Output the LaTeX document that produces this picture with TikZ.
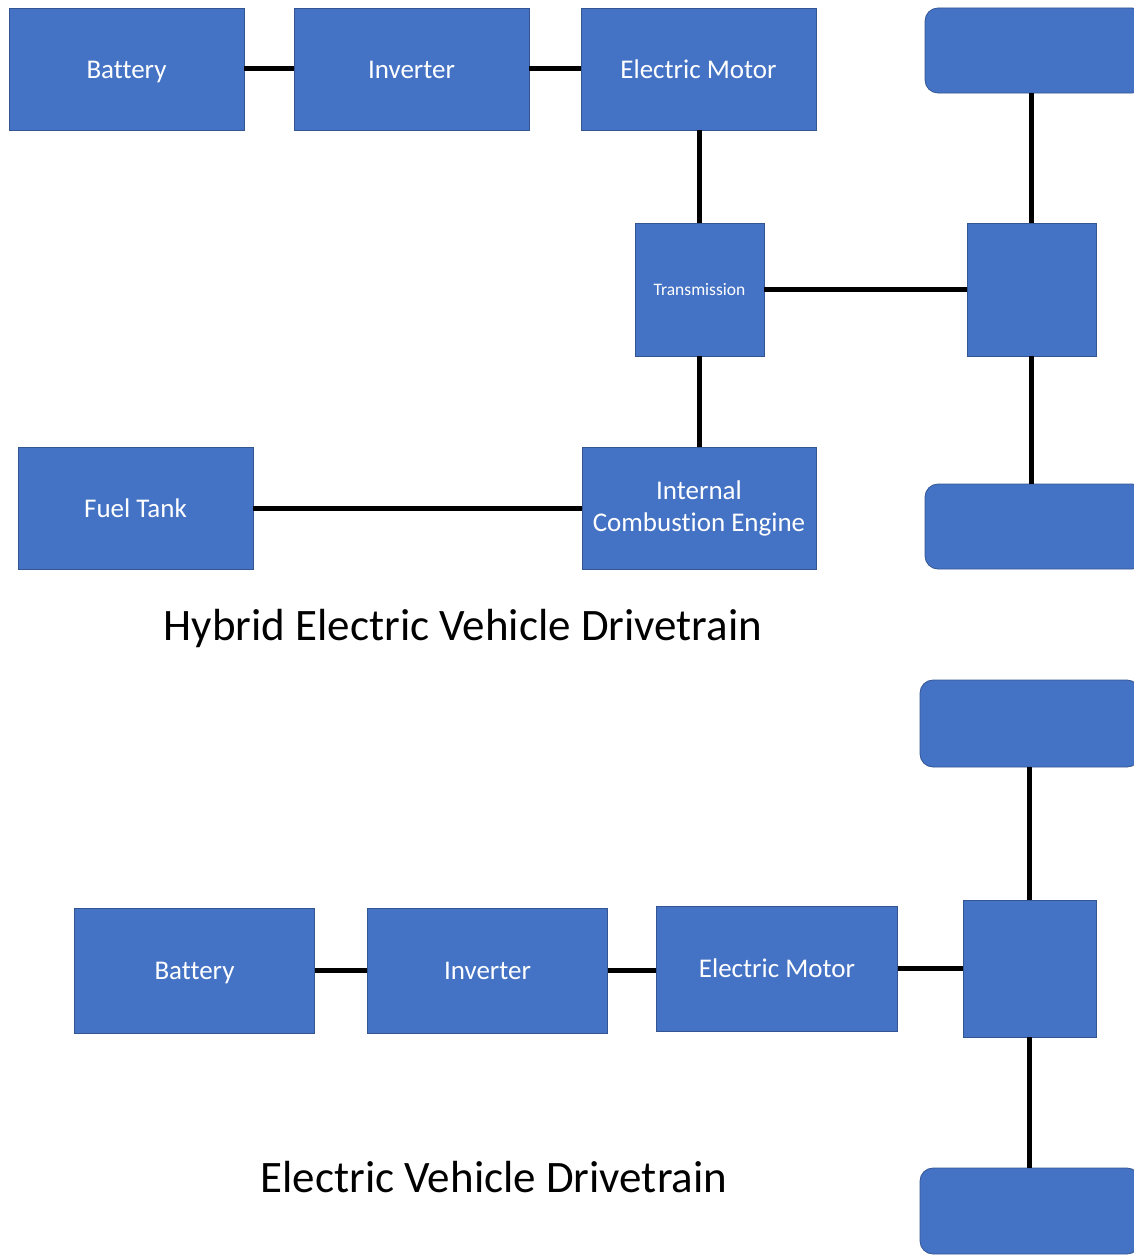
\documentclass[tikz,border=0pt]{standalone}
\usepackage{fontspec}
\setmainfont[Ligatures=NoCommon]{Carlito}
\begin{document}
\begin{tikzpicture}[x=1pt,y=-1pt,
  blk/.style={draw=bdr, line width=0.8pt, fill=boxblue, text=white, inner sep=0pt, font=\fontsize{27}{32}\selectfont},
  one/.style={text height=19pt, text depth=1pt},
  rblk/.style={blk, rounded corners=13pt},
  conn/.style={line width=5pt, black},
  ttl/.style={font=\fontsize{45}{54}\selectfont}]
\definecolor{boxblue}{HTML}{4472C4}
\colorlet{bdr}{boxblue!75!black}
\useasboundingbox (0,0) rectangle (1134,1255);
\clip (0,0) rectangle (1134,1255);
% ---------- Hybrid ----------
\node[blk, one, minimum width=235, minimum height=122] (hbat) at (126.5,69) {Battery};
\node[blk, one, minimum width=235, minimum height=122] (hinv) at (411.5,69) {Inverter};
\node[blk, one, minimum width=235, minimum height=122] (hmot) at (698.5,69) {Electric Motor};
\node[blk, text height=12pt, text depth=1pt, minimum width=129, minimum height=133, font=\fontsize{17.5}{21}\selectfont] (htr) at (699.5,289.5) {Transmission};
\node[blk, minimum width=129, minimum height=133] (hax) at (1031.5,289.5) {};
\node[rblk, minimum width=220, minimum height=85] (hwt) at (1035,50.5) {};
\node[rblk, minimum width=220, minimum height=85] (hwb) at (1035,526.5) {};
\node[blk, one, minimum width=235, minimum height=122] (hft) at (135.5,508) {Fuel Tank};
\node[blk, align=center, minimum width=234, minimum height=122] (hice) at (699,508) {Internal\\Combustion Engine};
\draw[conn] (hbat) -- (hinv);
\draw[conn] (hinv) -- (hmot);
\draw[conn] (hmot.south -| htr.north) -- (htr.north);
\draw[conn] (htr.south) -- (htr.south |- hice.north);
\draw[conn] (htr) -- (hax);
\draw[conn] (hax.north) -- (hax.north |- hwt.south);
\draw[conn] (hax.south) -- (hax.south |- hwb.north);
\draw[conn] (hft) -- (hice);
\node[ttl] (htitle) at (463,628) {Hybrid Electric Vehicle Drivetrain};
% ---------- Electric ----------
\node[rblk, minimum width=220, minimum height=87] (ewt) at (1030,723.5) {};
\node[blk, one, minimum width=240, minimum height=125] (ebat) at (194.5,970.5) {Battery};
\node[blk, one, minimum width=240, minimum height=125] (einv) at (487.5,970.5) {Inverter};
\node[blk, one, minimum width=241, minimum height=125] (emot) at (777,968.5) {Electric Motor};
\node[blk, minimum width=133, minimum height=137] (eax) at (1029.5,968.5) {};
\node[rblk, minimum width=220, minimum height=86] (ewb) at (1030,1211) {};
\draw[conn] (ebat) -- (einv);
\draw[conn] (einv.east) -- (einv.east -| emot.west);
\draw[conn] (emot) -- (eax);
\draw[conn] (eax.north) -- (eax.north |- ewt.south);
\draw[conn] (eax.south) -- (eax.south |- ewb.north);
\node[ttl] (etitle) at (494,1177) {Electric Vehicle Drivetrain};
\end{tikzpicture}
\end{document}
